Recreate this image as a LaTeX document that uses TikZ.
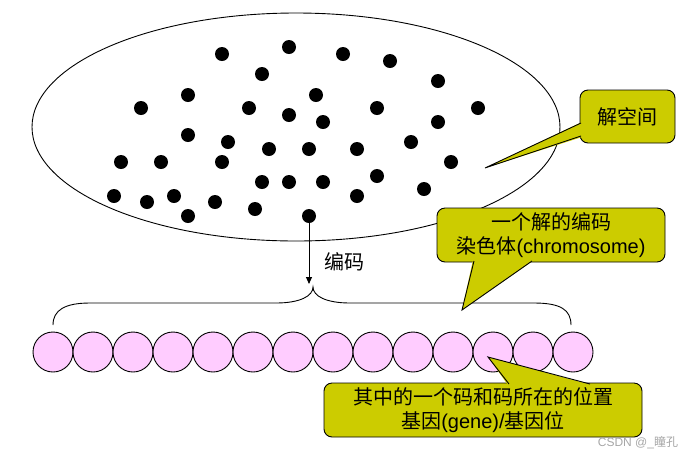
\documentclass[tikz,border=0pt]{standalone}
\usepackage{fontspec}
\setmainfont{Liberation Sans}
\newfontfamily\cjk{Noto Sans CJK SC}
\usetikzlibrary{arrows.meta,shapes.geometric}
\definecolor{callout}{HTML}{CCCC00}
\definecolor{genepink}{HTML}{FFCCFF}
\begin{document}
\begin{tikzpicture}[x=1pt,y=-1pt,
  dot/.style={circle,fill=black,inner sep=0pt,minimum size=14pt},
  gene/.style={circle,draw=black,line width=0.9pt,fill=genepink,inner sep=0pt,minimum size=40pt},
  space/.style={ellipse,draw=black,line width=0.9pt,inner sep=0pt,minimum width=528pt,minimum height=228pt},
  cbox/.style={draw=black,line width=0.9pt,fill=callout,rounded corners=8pt,inner sep=0pt,align=center,font=\fontsize{20}{24}\selectfont},
  cfill/.style={fill=callout},
  cedge/.style={draw=black,line width=0.9pt},
  lbl/.style={font=\fontsize{20}{24}\selectfont\cjk,inner sep=0pt},
  brace/.style={draw=black,line width=0.9pt},
  conn/.style={draw=black,line width=0.9pt,-{Triangle[width=6pt,length=7pt]}}
]
\useasboundingbox (0,0) rectangle (694,459);
% solution space
\node[space] (sp) at (296,127) {};
% dots
\foreach [count=\i] \p in {(222,54),(289,47),(343,54),(390,61),(262,74),(438,81),
  (141,108),(188,95),(249,108),(289,115),(316,95),(377,108),(478,108),
  (188,135),(228,142),(269,149),(309,149),(323,122),(357,149),(411,142),(438,122),
  (121,162),(161,162),(222,162),(451,162),
  (262,182),(289,182),(323,182),(377,176),
  (114,196),(147,202),(174,196),(215,202),(188,216),(255,209),(357,196),(424,189)}
  \node[dot] (d\i) at \p {};
\node[dot] (src) at (309,216) {};
% encoding arrow
\coordinate (arrowend) at (309,284);
\path[conn] (src) -- (arrowend);
\node[lbl] (enc) at (344,262) {编码};
% brace
\coordinate (bl) at (53,325);
\coordinate (bt) at (313,287);
\coordinate (br) at (571,325);
\path[brace] (bl) .. controls (53,310) and (65,303) .. (90,303) -- (276,303)
  .. controls (300,303) and (313,296) .. (bt)
  .. controls (313,296) and (326,303) .. (350,303) -- (534,303)
  .. controls (561,303) and (571,310) .. (br);
% chromosome genes
\foreach \i in {0,...,13}
  \node[gene] (g\i) at ({53+40*\i},352) {};
% callout 1
\node[cbox,minimum width=95pt,minimum height=53pt] (c1) at (627.5,116.5) {{\cjk 解空间}};
\coordinate (t1) at (485,168);
\coordinate (a1) at (581,123);
\coordinate (b1) at (581,136);
\fill[cfill] (582,122) -- (t1) -- (582,137) -- cycle;
\path[cedge] (a1) -- (t1) -- (b1);
% callout 2
\node[cbox,minimum width=228pt,minimum height=54pt] (c2) at (551,235) {{\cjk 一个解的编码}\\{\cjk 染色体}(chromosome)};
\coordinate (t2) at (462,310);
\coordinate (a2) at (474,261);
\coordinate (b2) at (532,261);
\fill[cfill] (473,260) -- (t2) -- (534,260) -- cycle;
\path[cedge] (a2) -- (t2) -- (b2);
% callout 3
\node[cbox,minimum width=318pt,minimum height=54pt] (c3) at (483,410) {{\cjk 其中的一个码和码所在的位置}\\{\cjk 基因}(gene)/{\cjk 基因位}};
\coordinate (t3) at (488,357);
\coordinate (a3) at (509,384);
\coordinate (b3) at (590,384);
\fill[cfill] (508,385) -- (t3) -- (592,385) -- cycle;
\path[cedge] (a3) -- (t3) -- (b3);
% watermark
\node[inner sep=0pt,text=black!35,font=\fontsize{12}{14}\selectfont] (wm) at (638,443) {CSDN @\_{\cjk 瞳孔}};
\end{tikzpicture}
\end{document}
